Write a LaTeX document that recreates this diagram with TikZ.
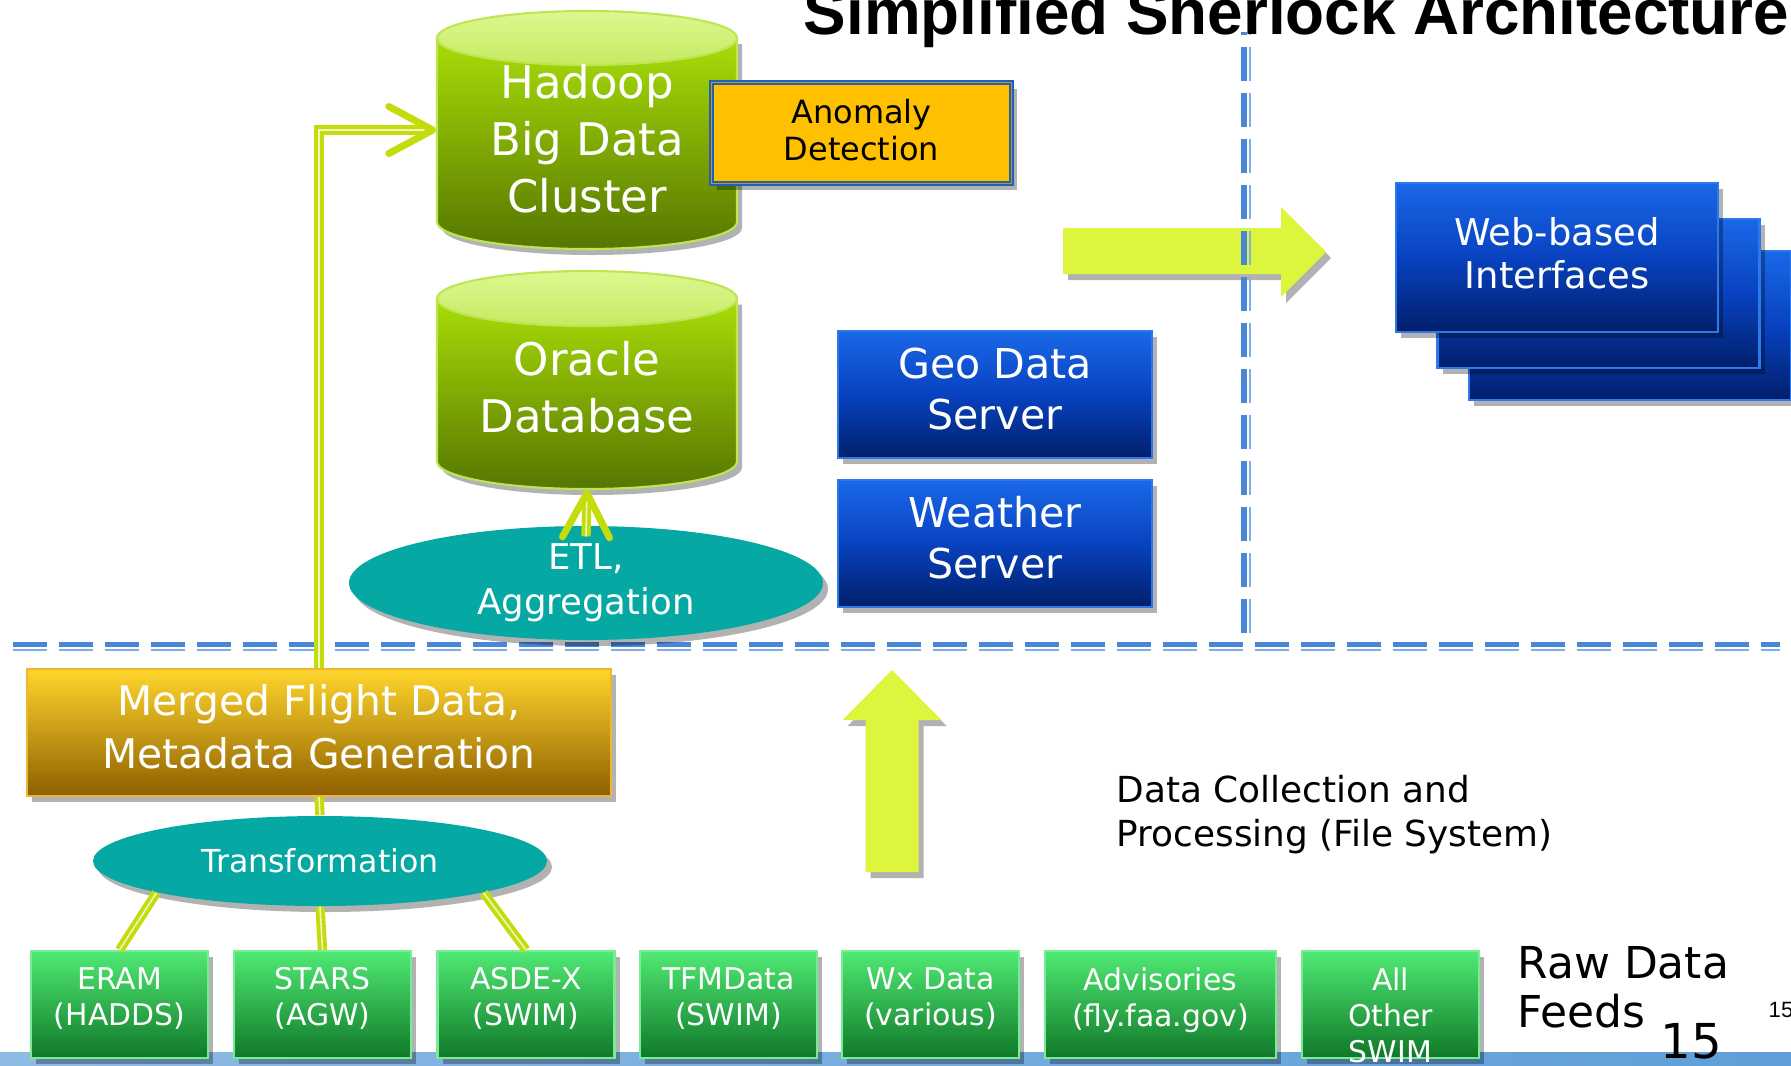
\documentclass[tikz,border=0pt]{standalone}
\usepackage{fontspec}
\setmainfont{DejaVu Sans}
\newfontfamily\headfont{Liberation Sans}
\usetikzlibrary{shapes.geometric,arrows.meta,shadows}

\definecolor{lnk}{HTML}{C4DC0C}
\definecolor{bigarw}{HTML}{DDF53C}
\definecolor{tealfill}{HTML}{06A8A4}
\definecolor{dashblue}{HTML}{4A86D8}
\definecolor{dashlight}{HTML}{80ACE8}
\definecolor{bluetop}{HTML}{1A68E8}
\definecolor{bluemid}{HTML}{0842C0}
\definecolor{bluebot}{HTML}{001F6A}
\definecolor{blueedge}{HTML}{2C7AEA}
\definecolor{anomfill}{HTML}{FFC000}
\definecolor{anomedge}{HTML}{1F5FC0}
\definecolor{mergetop}{HTML}{FFD52C}
\definecolor{mergebot}{HTML}{8E6000}
\definecolor{mergeedge}{HTML}{F2B434}
\definecolor{feedtop}{HTML}{50EA74}
\definecolor{feedbot}{HTML}{107828}
\definecolor{feededge}{HTML}{78EC94}
\definecolor{dbtop}{HTML}{A8DE08}
\definecolor{dbbot}{HTML}{567600}
\definecolor{captop}{HTML}{DCF890}
\definecolor{capbot}{HTML}{C6EA62}
\definecolor{dbedge}{HTML}{BEE654}
\definecolor{stripblue}{HTML}{5E9ED8}

% invisible depth below the last line, lifts the text in its box
\newcommand{\bottomgap}[1]{\rule[-#1]{0pt}{0pt}}

\tikzset{
  softshadow/.style={drop shadow={shadow xshift=0.05cm,shadow yshift=-0.06cm,opacity=0.3,fill=black}},
  bigarrow/.style={fill=bigarw,softshadow},
  dashline/.style={draw=dashblue,line width=1.5pt,dash pattern=on 0.34cm off 0.12cm},
  dashthin/.style={draw=dashlight,line width=0.8pt,dash pattern=on 0.34cm off 0.12cm},
  dbbody/.style={top color=dbtop,bottom color=dbbot,draw=dbedge,line width=0.6pt,softshadow},
  dbcap/.style={top color=captop,bottom color=capbot,draw=dbedge,line width=0.6pt},
  dblabel/.style={text=white,align=center,inner sep=0pt,minimum width=3cm,
    font=\fontsize{12.8pt}{16.2pt}\selectfont},
  server/.style={rectangle,top color=bluetop,bottom color=bluebot,middle color=bluemid,
    draw=blueedge,line width=0.6pt,text=white,align=center,inner sep=0pt,softshadow},
  anomaly/.style={rectangle,fill=anomfill,draw=anomedge,line width=0.6pt,double=anomfill!80!black,
    double distance=0.4pt,minimum width=3.0cm,minimum height=1.01cm,align=center,inner sep=0pt,
    font=\fontsize{9.1pt}{10.5pt}\selectfont,softshadow},
  merged/.style={rectangle,top color=mergetop,bottom color=mergebot,draw=mergeedge,line width=0.6pt,
    minimum width=5.84cm,minimum height=1.27cm,text=white,align=center,inner sep=0pt,
    font=\fontsize{11.6pt}{15.1pt}\selectfont,softshadow},
  proc/.style={ellipse,fill=tealfill,text=white,align=center,inner sep=0pt,softshadow},
  feed/.style={rectangle,top color=feedtop,bottom color=feedbot,draw=feededge,line width=0.6pt,
    minimum height=1.07cm,softshadow},
  feedtext/.style={text=white,align=center,anchor=north,yshift=-0.17cm,inner sep=0pt,
    font=\fontsize{8.5pt}{10.2pt}\selectfont},
  link/.style={draw=lnk,line width=1.1pt,double=lnk!25!white,double distance=0.45pt},
  barb/.style={-{Straight Barb[length=0.44cm,width=0.47cm,line width=2pt,round]}}
}

\begin{document}
\begin{tikzpicture}
  \useasboundingbox (0,0) rectangle (17.91,-10.65);
  \clip (0,0) rectangle (17.91,-10.65);

  % strip along the bottom edge
  \shade[left color=stripblue!70!white,right color=stripblue] (0,-10.52) rectangle (17.91,-10.65);

  % wide arrows
  \path[bigarrow] (10.63,-2.28) -- (12.81,-2.28) -- (12.81,-2.07) -- (13.26,-2.52)
    -- (12.81,-2.97) -- (12.81,-2.74) -- (10.63,-2.74) -- cycle;
  \path[bigarrow] (8.655,-8.72) -- (8.655,-7.20) -- (8.425,-7.20) -- (8.92,-6.70)
    -- (9.415,-7.20) -- (9.185,-7.20) -- (9.185,-8.72) -- cycle;

  % layer borders
  \draw[dashline] (0.126,-6.445) -- (17.80,-6.445);
  \draw[dashthin] (0.126,-6.50) -- (17.80,-6.50);
  \draw[dashline,dash phase=0.31cm] (12.44,-0.32) -- (12.44,-6.37);
  \draw[dashthin,dash phase=0.31cm] (12.50,-0.32) -- (12.50,-6.37);

  % stores
  \path[dbbody] (4.37,-0.38) -- (4.37,-2.22)
    arc[start angle=180,end angle=360,x radius=1.5,y radius=0.27] -- (7.37,-0.38) -- cycle;
  \path[dbcap] (5.87,-0.38) ellipse [x radius=1.5,y radius=0.27];
  \node[dblabel] (hadoop) at (5.87,-1.385) {Hadoop\\Big Data\\Cluster};

  \path[dbbody] (4.37,-2.985) -- (4.37,-4.615)
    arc[start angle=180,end angle=360,x radius=1.5,y radius=0.275] -- (7.37,-2.985) -- cycle;
  \path[dbcap] (5.87,-2.985) ellipse [x radius=1.5,y radius=0.275];
  \node[dblabel,minimum height=2.03cm] (oracle) at (5.87,-3.875) {Oracle\\Database};

  \node[anomaly] (anom) at (8.615,-1.33) {Anomaly\\Detection\bottomgap{0.06cm}};

  % servers
  \node[server,minimum width=3.14cm,minimum height=1.27cm,font=\fontsize{11.7pt}{14.5pt}\selectfont]
    (geo) at (9.95,-3.945) {Geo Data\\Server\bottomgap{0.12cm}};
  \node[server,minimum width=3.14cm,minimum height=1.27cm,font=\fontsize{11.7pt}{14.5pt}\selectfont]
    (weather) at (9.95,-5.435) {Weather\\Server\bottomgap{0.12cm}};

  \node[server,minimum width=3.22cm,minimum height=1.49cm] (web3) at (16.30,-3.255) {};
  \node[server,minimum width=3.22cm,minimum height=1.49cm] (web2) at (15.985,-2.935) {};
  \node[server,minimum width=3.22cm,minimum height=1.49cm,font=\fontsize{10.5pt}{12.2pt}\selectfont]
    (web1) at (15.57,-2.575) {Web-based\\Interfaces\bottomgap{0.09cm}};

  % processing
  \node[proc,minimum width=4.74cm,minimum height=1.14cm,font=\fontsize{10.1pt}{12.8pt}\selectfont]
    (etl) at (5.86,-5.83) {ETL,\\Aggregation};
  \node[merged] (merged) at (3.19,-7.325) {Merged Flight Data,\\Metadata Generation\bottomgap{0.12cm}};
  \node[proc,minimum width=4.54cm,minimum height=0.90cm,font=\fontsize{9pt}{10pt}\selectfont]
    (trans) at (3.20,-8.61) {Transformation};

  % raw feeds
  \node[feed,minimum width=1.77cm,label={[feedtext]north:{ERAM\\(HADDS)}}] (eram) at (1.195,-10.045) {};
  \node[feed,minimum width=1.77cm,label={[feedtext]north:{STARS\\(AGW)}}] (stars) at (3.225,-10.045) {};
  \node[feed,minimum width=1.77cm,label={[feedtext]north:{ASDE-X\\(SWIM)}}] (asde) at (5.26,-10.045) {};
  \node[feed,minimum width=1.77cm,label={[feedtext]north:{TFMData\\(SWIM)}}] (tfm) at (7.285,-10.045) {};
  \node[feed,minimum width=1.77cm,label={[feedtext]north:{Wx Data\\(various)}}] (wx) at (9.305,-10.045) {};
  \node[feed,minimum width=2.31cm,label={[feedtext]north:{Advisories\\(fly.faa.gov)}}] (adv) at (11.605,-10.045) {};
  \node[feed,minimum width=1.77cm,label={[feedtext]north:{All\\Other\\SWIM}}] (other) at (13.905,-10.045) {};

  % connectors
  \draw[link,barb] (merged.north) |- ([yshift=0.085cm]hadoop.west);
  \draw[link,barb] ([yshift=-0.11cm]etl.north) -- (oracle.south);
  \draw[link] (merged.south) -- (trans.north);
  \draw[link] (trans.-169) -- (eram.north);
  \draw[link] (trans.south) -- (stars.north);
  \draw[link] (trans.-11) -- (asde.north);

  % texts
  \node[anchor=base west,inner sep=0pt,font=\headfont\bfseries\fontsize{18.15pt}{20pt}\selectfont]
    (title) at (8.03,-0.34) {Simplified Sherlock Architecture};
  \node[anchor=north west,inner sep=0pt,align=left,font=\fontsize{10.2pt}{12.5pt}\selectfont]
    (collect) at (11.16,-7.75) {Data Collection and\\Processing (File System)};
  \node[anchor=north west,inner sep=0pt,align=left,font=\fontsize{12.5pt}{13.9pt}\selectfont]
    (raw) at (15.17,-9.46) {Raw Data\\Feeds};
  \node[anchor=north west,inner sep=0pt,font=\fontsize{13.7pt}{16pt}\selectfont]
    (slidenum) at (16.60,-10.23) {15};
  \node[anchor=north west,inner sep=0pt,font=\headfont\fontsize{6.3pt}{7pt}\selectfont]
    (pagenum) at (17.68,-10.02) {15};
\end{tikzpicture}
\end{document}
